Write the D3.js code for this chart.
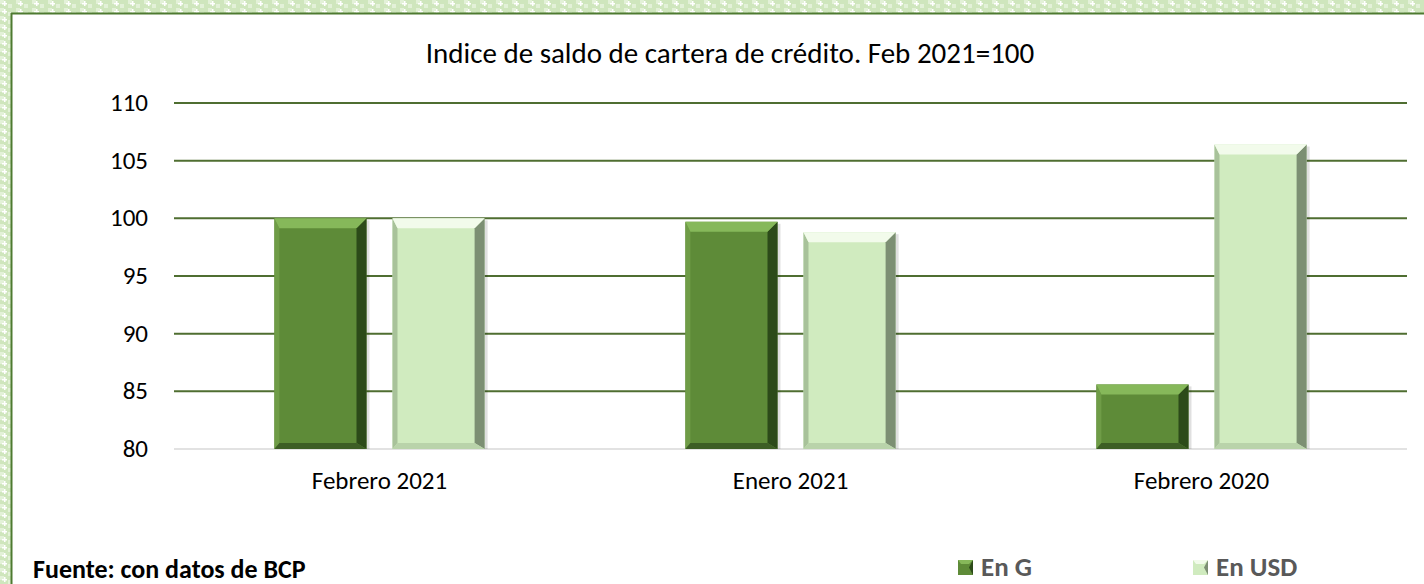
<!DOCTYPE html>
<html>
<head>
<meta charset="utf-8">
<style>
body { margin: 0; background: #fff; }
svg { display: block; }
text { font-family: Carlito, Calibri, "Open Sans", sans-serif; }
</style>
</head>
<body>
<svg id="chart" width="1424" height="584"></svg>
<script src="https://cdn.jsdelivr.net/npm/d3@7/dist/d3.min.js"></script>
<script>
// data
var categories = ["Febrero 2021", "Enero 2021", "Febrero 2020"];
var seriesNames = ["En G", "En USD"];
var valuesG = [100, 99.7, 85.6];
var valuesUSD = [100, 98.8, 106.4];
var yTicks = [80, 85, 90, 95, 100, 105, 110];

var svg = d3.select("#chart"),
    W = 1424, H = 584;

// patterned frame
var defs = svg.append("defs");
var pat = defs.append("pattern").attr("id", "frame").attr("width", 16).attr("height", 8)
  .attr("patternUnits", "userSpaceOnUse");
pat.append("rect").attr("width", 16).attr("height", 8).attr("fill", "#cfe6bd");
pat.append("rect").attr("x", 0).attr("y", 0).attr("width", 4).attr("height", 4).attr("fill", "#e3f1d8");
pat.append("rect").attr("x", 8).attr("y", 4).attr("width", 4).attr("height", 4).attr("fill", "#e3f1d8");
pat.append("rect").attr("x", 2).attr("y", 3).attr("width", 5).attr("height", 1.5).attr("fill", "#ffffff");
pat.append("rect").attr("x", 4).attr("y", 1).attr("width", 1.5).attr("height", 5).attr("fill", "#ffffff");

svg.append("rect").attr("width", W).attr("height", H).attr("fill", "url(#frame)");
svg.append("rect").attr("x", 12).attr("y", 14).attr("width", W - 12).attr("height", H - 14).attr("fill", "#fff");
svg.append("line").attr("x1", 11).attr("x2", W).attr("y1", 13.5).attr("y2", 13.5)
  .attr("stroke", "#4e7a31").attr("stroke-width", 2);
svg.append("line").attr("x1", 11.5).attr("x2", 11.5).attr("y1", 13).attr("y2", H)
  .attr("stroke", "#4e7a31").attr("stroke-width", 2);

var margin = {left: 174, right: 17, top: 103, bottom: 135};
var x0 = d3.scaleBand().domain(categories).range([margin.left, W - margin.right]);
var x1 = d3.scaleBand().domain(seriesNames).range([0, x0.bandwidth()]).paddingInner(0.22).paddingOuter(0.85);
var y = d3.scaleLinear().domain([80, 110]).range([H - margin.bottom, margin.top]);

// title
svg.append("text").attr("x", 730).attr("y", 63).attr("text-anchor", "middle")
  .attr("font-size", 29).attr("fill", "#000")
  .text("Indice de saldo de cartera de crédito. Feb 2021=100");

// gridlines
svg.append("g").selectAll("line").data(yTicks.filter(function(d){ return d > 80; })).enter().append("line")
  .attr("x1", margin.left).attr("x2", W - margin.right)
  .attr("y1", function(d){ return y(d); }).attr("y2", function(d){ return y(d); })
  .attr("stroke", "#4f6e31").attr("stroke-width", 2);

svg.append("line").attr("x1", margin.left).attr("x2", W - margin.right)
  .attr("y1", y(80)).attr("y2", y(80)).attr("stroke", "#d9d9d9").attr("stroke-width", 1.5);

// y labels
svg.append("g").selectAll("text").data(yTicks).enter().append("text")
  .attr("x", 148).attr("y", function(d){ return y(d) + 8; })
  .attr("text-anchor", "end").attr("font-size", 25).attr("fill", "#000")
  .text(function(d){ return d; });

// x labels
svg.append("g").selectAll("text").data(categories).enter().append("text")
  .attr("x", function(d){ return x0(d) + x0.bandwidth() / 2; })
  .attr("y", 489).attr("text-anchor", "middle").attr("font-size", 25).attr("fill", "#000")
  .text(function(d){ return d; });

var styles = {
  "En G":   {fill: "#5e8b38", top: "#86b85a", left: "#6f9c47", right: "#2c4a19", bottom: "#3d5e25"},
  "En USD": {fill: "#d0ebbf", top: "#f2fbeb", left: "#a8c29a", right: "#7c8f73", bottom: "#b9d3aa"}
};

var bars = [];
categories.forEach(function(c, i){
  bars.push({cat: c, s: "En G", v: valuesG[i]});
  bars.push({cat: c, s: "En USD", v: valuesUSD[i]});
});

var b = 10;
var g = svg.append("g");
bars.forEach(function(d){
  var st = styles[d.s];
  var xl = x0(d.cat) + x1(d.s), xr = xl + x1.bandwidth();
  var yt = y(d.v), yb = y(80);
  g.append("rect").attr("x", xl + 3).attr("y", yt + 2).attr("width", xr - xl).attr("height", yb - yt - 2)
    .attr("fill", "#000").attr("opacity", 0.12);
  g.append("rect").attr("x", xl).attr("y", yt).attr("width", xr - xl).attr("height", yb - yt).attr("fill", st.fill);
  var pts = function(a){ return a.map(function(p){ return p.join(","); }).join(" "); };
  g.append("polygon").attr("fill", st.left)
    .attr("points", pts([[xl, yt], [xl + b * 0.5, yt + b], [xl + b * 0.5, yb - b * 0.6], [xl, yb]]));
  g.append("polygon").attr("fill", st.right)
    .attr("points", pts([[xr, yt], [xr - b, yt + b], [xr - b, yb - b * 0.6], [xr, yb]]));
  g.append("polygon").attr("fill", st.bottom)
    .attr("points", pts([[xl, yb], [xl + b * 0.5, yb - b * 0.6], [xr - b, yb - b * 0.6], [xr, yb]]));
  g.append("polygon").attr("fill", st.top)
    .attr("points", pts([[xl, yt], [xr, yt], [xr - b, yt + b], [xl + b * 0.5, yt + b]]));
});

// footer
svg.append("text").attr("x", 33).attr("y", 578).attr("font-size", 26).attr("font-weight", "bold")
  .attr("fill", "#000").text("Fuente: con datos de BCP");

// legend
var legX = [958, 1193];
seriesNames.forEach(function(s, i){
  var st = styles[s];
  svg.append("rect").attr("x", legX[i]).attr("y", 560).attr("width", 15).attr("height", 15).attr("fill", st.fill);
  svg.append("polygon").attr("fill", st.right)
    .attr("points", [[legX[i] + 15, 560], [legX[i] + 11, 567.5], [legX[i] + 15, 575]].join(" "));
  svg.append("polygon").attr("fill", st.top)
    .attr("points", [[legX[i], 560], [legX[i] + 15, 560], [legX[i] + 11, 564], [legX[i] + 3, 564]].join(" "));
  svg.append("text").attr("x", legX[i] + 23).attr("y", 576).attr("font-size", 27).attr("font-weight", "bold")
    .attr("fill", "#595959").text(s);
});
</script>
</body>
</html>
